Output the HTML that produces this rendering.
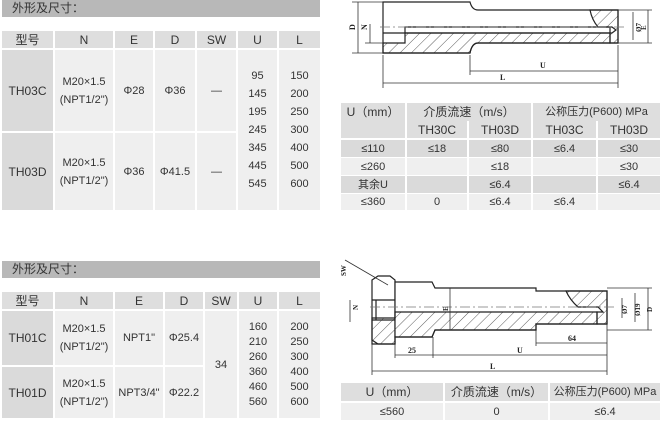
<!DOCTYPE html>
<html><head><meta charset="utf-8"><style>
body{margin:0;width:665px;height:422px;background:#fff;position:relative;overflow:hidden;font-family:"Liberation Sans","Noto Sans CJK SC",sans-serif;color:#333}
.c{position:absolute;display:flex;align-items:center;justify-content:center;text-align:center;font-size:11px;line-height:18px;white-space:nowrap}
.h{background:#dedede;font-size:12px}
.d{background:#dadada}
.l{background:#efefef}
.bar{position:absolute;background:#b8b8b8;font-size:12px;padding-left:10px;line-height:17px;box-sizing:border-box}
svg{position:absolute}
</style></head><body>

<div class="bar" style="left:2px;top:0;width:318px;height:17px">外形及尺寸：</div>
<div class="c h" style="left:2px;top:31px;width:51px;height:17px">型号</div>
<div class="c h" style="left:55px;top:31px;width:58px;height:17px">N</div>
<div class="c h" style="left:115px;top:31px;width:38px;height:17px">E</div>
<div class="c h" style="left:155px;top:31px;width:40px;height:17px">D</div>
<div class="c h" style="left:197px;top:31px;width:39px;height:17px">SW</div>
<div class="c h" style="left:238px;top:31px;width:39px;height:17px">U</div>
<div class="c h" style="left:279px;top:31px;width:41px;height:17px">L</div>
<div class="c d" style="left:2px;top:50px;width:51px;height:81px;font-size:12px">TH03C</div>
<div class="c d" style="left:2px;top:133px;width:51px;height:77px;font-size:12px">TH03D</div>
<div class="c l" style="left:55px;top:50px;width:58px;height:81px">M20×1.5<br>(NPT1/2")</div>
<div class="c l" style="left:55px;top:133px;width:58px;height:77px">M20×1.5<br>(NPT1/2")</div>
<div class="c l" style="left:115px;top:50px;width:38px;height:81px">Φ28</div>
<div class="c l" style="left:115px;top:133px;width:38px;height:77px">Φ36</div>
<div class="c l" style="left:155px;top:50px;width:40px;height:81px">Φ36</div>
<div class="c l" style="left:155px;top:133px;width:40px;height:77px">Φ41.5</div>
<div class="c l" style="left:197px;top:50px;width:39px;height:81px">—</div>
<div class="c l" style="left:197px;top:133px;width:39px;height:77px">—</div>
<div class="c l" style="left:238px;top:50px;width:39px;height:160px">95<br>145<br>195<br>245<br>345<br>445<br>545</div>
<div class="c l" style="left:279px;top:50px;width:41px;height:160px">150<br>200<br>250<br>300<br>400<br>500<br>600</div>

<svg style="left:335px;top:0" width="330" height="95" viewBox="335 0 330 95">
<defs><pattern id="hp" width="8" height="8" patternUnits="userSpaceOnUse" patternTransform="rotate(45)"><line x1="0" y1="0" x2="0" y2="8" stroke="#333" stroke-width="0.8"/></pattern></defs>
<g stroke="#222" fill="none" stroke-width="1.2">
<path d="M383,2 H470 Q472,10 478,10 H618 V43 H478 Q472,43 470,53 H383 Z" fill="#fff"/>
<path d="M383,33 H405 V27 H612 L616,30 L612,33 H478 Q472,33 470,33 Z" fill="none"/>
<path d="M383,43 H405 V33 H610 V43 H478 Q472,43 470,53 H383 Z" fill="url(#hp)"/>
<path d="M590,10 H618 V43 H610 V27 L598,27 Q592,20 590,10 Z" fill="url(#hp)"/>
</g>
<line x1="380" y1="27" x2="625" y2="27" stroke="#777" stroke-dasharray="10,3,2,3" stroke-width="0.8"/>
<g stroke="#333" stroke-width="0.8">
<line x1="358" y1="2" x2="358" y2="53"/><line x1="352" y1="2" x2="383" y2="2"/><line x1="352" y1="53" x2="383" y2="53"/>
<line x1="370" y1="24" x2="370" y2="43"/><line x1="365" y1="43" x2="383" y2="43"/>
<line x1="633" y1="12" x2="633" y2="40"/><line x1="648" y1="10" x2="648" y2="43"/>
<line x1="618" y1="10" x2="652" y2="10"/><line x1="618" y1="43" x2="652" y2="43"/>
<line x1="470" y1="55" x2="470" y2="75"/><line x1="618" y1="45" x2="618" y2="88"/><line x1="383" y1="55" x2="383" y2="88"/>
<line x1="470" y1="71" x2="618" y2="71"/><line x1="383" y1="83" x2="618" y2="83"/>
</g>
<g font-size="8" font-family="Liberation Serif,serif" font-weight="bold" fill="#222">
<text x="500" y="80">L</text><text x="540" y="68">U</text>
<text x="355" y="30" transform="rotate(-90 355 30)">D</text>
<text x="367" y="30" transform="rotate(-90 367 30)">N</text>
<text x="641" y="32" transform="rotate(-90 641 32)" font-size="7">Ø7</text>
<text x="646" y="30" transform="rotate(-90 646 30)" font-size="7">E</text>
</g>
</svg>

<div class="c h" style="left:341px;top:103px;width:64px;height:35px;align-items:flex-start">U（mm）</div>
<div class="c h" style="left:407px;top:103px;width:124px;height:18px">介质流速（m/s）</div>
<div class="c h" style="left:533px;top:103px;width:127px;height:18px;font-size:11px">公称压力(P600) MPa</div>
<div class="c h" style="left:407px;top:121px;width:60px;height:17px">TH30C</div>
<div class="c h" style="left:469px;top:121px;width:62px;height:17px">TH03D</div>
<div class="c h" style="left:533px;top:121px;width:63px;height:17px">TH03C</div>
<div class="c h" style="left:598px;top:121px;width:62px;height:17px">TH03D</div>

<div class="c d" style="left:341px;top:140px;width:64px;height:17px">≤110</div>
<div class="c d" style="left:407px;top:140px;width:60px;height:17px">≤18</div>
<div class="c d" style="left:469px;top:140px;width:62px;height:17px">≤80</div>
<div class="c d" style="left:533px;top:140px;width:63px;height:17px">≤6.4</div>
<div class="c d" style="left:598px;top:140px;width:62px;height:17px">≤30</div>
<div class="c l" style="left:341px;top:158px;width:64px;height:17px">≤260</div>
<div class="c l" style="left:407px;top:158px;width:60px;height:17px"></div>
<div class="c l" style="left:469px;top:158px;width:62px;height:17px">≤18</div>
<div class="c l" style="left:533px;top:158px;width:63px;height:17px"></div>
<div class="c l" style="left:598px;top:158px;width:62px;height:17px">≤30</div>
<div class="c d" style="left:341px;top:176px;width:64px;height:17px">其余U</div>
<div class="c d" style="left:407px;top:176px;width:60px;height:17px"></div>
<div class="c d" style="left:469px;top:176px;width:62px;height:17px">≤6.4</div>
<div class="c d" style="left:533px;top:176px;width:63px;height:17px"></div>
<div class="c d" style="left:598px;top:176px;width:62px;height:17px">≤6.4</div>
<div class="c l" style="left:341px;top:194px;width:64px;height:16px">≤360</div>
<div class="c l" style="left:407px;top:194px;width:60px;height:16px">0</div>
<div class="c l" style="left:469px;top:194px;width:62px;height:16px">≤6.4</div>
<div class="c l" style="left:533px;top:194px;width:63px;height:16px">≤6.4</div>
<div class="c l" style="left:598px;top:194px;width:62px;height:16px"></div>

<div class="bar" style="left:2px;top:261px;width:318px;height:17px">外形及尺寸：</div>
<div class="c h" style="left:2px;top:292px;width:51px;height:17px">型号</div>
<div class="c h" style="left:55px;top:292px;width:58px;height:17px">N</div>
<div class="c h" style="left:115px;top:292px;width:48px;height:17px">E</div>
<div class="c h" style="left:165px;top:292px;width:38px;height:17px">D</div>
<div class="c h" style="left:205px;top:292px;width:32px;height:17px">SW</div>
<div class="c h" style="left:239px;top:292px;width:38px;height:17px">U</div>
<div class="c h" style="left:279px;top:292px;width:41px;height:17px">L</div>
<div class="c d" style="left:2px;top:311px;width:51px;height:54px;font-size:12px">TH01C</div>
<div class="c d" style="left:2px;top:367px;width:51px;height:51px;font-size:12px">TH01D</div>
<div class="c l" style="left:55px;top:311px;width:58px;height:54px">M20×1.5<br>(NPT1/2")</div>
<div class="c l" style="left:55px;top:367px;width:58px;height:51px">M20×1.5<br>(NPT1/2")</div>
<div class="c l" style="left:115px;top:311px;width:48px;height:54px">NPT1"</div>
<div class="c l" style="left:115px;top:367px;width:48px;height:51px">NPT3/4"</div>
<div class="c l" style="left:165px;top:311px;width:38px;height:54px">Φ25.4</div>
<div class="c l" style="left:165px;top:367px;width:38px;height:51px">Φ22.2</div>
<div class="c l" style="left:205px;top:311px;width:32px;height:107px">34</div>
<div class="c l" style="left:239px;top:311px;width:38px;height:107px;line-height:15px">160<br>210<br>260<br>360<br>460<br>560</div>
<div class="c l" style="left:279px;top:311px;width:41px;height:107px;line-height:15px">200<br>250<br>300<br>400<br>500<br>600</div>

<svg style="left:335px;top:250px" width="330" height="130" viewBox="335 250 330 130">
<defs><pattern id="hp2" width="8" height="8" patternUnits="userSpaceOnUse" patternTransform="rotate(45)"><line x1="0" y1="0" x2="0" y2="8" stroke="#333" stroke-width="0.8"/></pattern></defs>
<g stroke="#222" stroke-width="1.2">
<path d="M372,280 L378,276 H390 L395,280 V344 H372 Z" fill="#fff"/>
<path d="M395,282 H432 L435,288 H536 V291 H607 V324 H536 V330 H435 L432,337 H395 Z" fill="#fff"/>
<path d="M372,318 H395 V312 H597 V324 H536 V330 H435 L432,337 H395 V344 H378 L372,340 Z" fill="url(#hp2)"/>
<path d="M566,291 H607 V324 H597 V312 H603 L598,307 H578 Q570,300 566,291 Z" fill="url(#hp2)"/>
<path d="M372,300 H395 M372,320 H395 M376,300 V320" fill="none"/>
</g>
<line x1="370" y1="307" x2="615" y2="307" stroke="#777" stroke-dasharray="10,3,2,3" stroke-width="0.8"/>
<g stroke="#333" stroke-width="0.8">
<line x1="345" y1="260" x2="388" y2="285"/>
<line x1="350" y1="300" x2="350" y2="322"/>
<line x1="622" y1="298" x2="622" y2="318"/><line x1="635" y1="293" x2="635" y2="322"/><line x1="648" y1="288" x2="648" y2="330"/>
<line x1="607" y1="288" x2="652" y2="288"/><line x1="607" y1="330" x2="652" y2="330"/>
<line x1="536" y1="330" x2="536" y2="346"/><line x1="607" y1="324" x2="607" y2="375"/>
<line x1="536" y1="343" x2="607" y2="343"/>
<line x1="395" y1="344" x2="395" y2="358"/><line x1="433" y1="337" x2="433" y2="358"/><line x1="372" y1="344" x2="372" y2="375"/>
<line x1="395" y1="355" x2="607" y2="355"/><line x1="372" y1="371" x2="607" y2="371"/>
<line x1="450" y1="288" x2="450" y2="330"/>
</g>
<g font-size="8" font-family="Liberation Serif,serif" font-weight="bold" fill="#222">
<text x="408" y="353">25</text><text x="517" y="353">U</text><text x="568" y="341">64</text><text x="490" y="369">L</text>
<text x="346" y="276" transform="rotate(-90 346 276)" font-size="7">SW</text>
<text x="358" y="310" transform="rotate(-90 358 310)" font-size="7">N</text>
<text x="448" y="311" transform="rotate(-90 448 311)" font-size="7">E</text>
<text x="627" y="314" transform="rotate(-90 627 314)" font-size="7">Ø7</text>
<text x="640" y="316" transform="rotate(-90 640 316)" font-size="7">Ø19</text>
<text x="652" y="312" transform="rotate(-90 652 312)" font-size="7">D</text>
</g>
</svg>

<div class="c h" style="left:341px;top:383px;width:102px;height:18px">U（mm）</div>
<div class="c h" style="left:445px;top:383px;width:103px;height:18px">介质流速（m/s）</div>
<div class="c h" style="left:550px;top:383px;width:110px;height:18px;font-size:11px">公称压力(P600) MPa</div>
<div class="c l" style="left:341px;top:403px;width:102px;height:17px">≤560</div>
<div class="c l" style="left:445px;top:403px;width:103px;height:17px">0</div>
<div class="c l" style="left:550px;top:403px;width:110px;height:17px">≤6.4</div>
</body></html>
